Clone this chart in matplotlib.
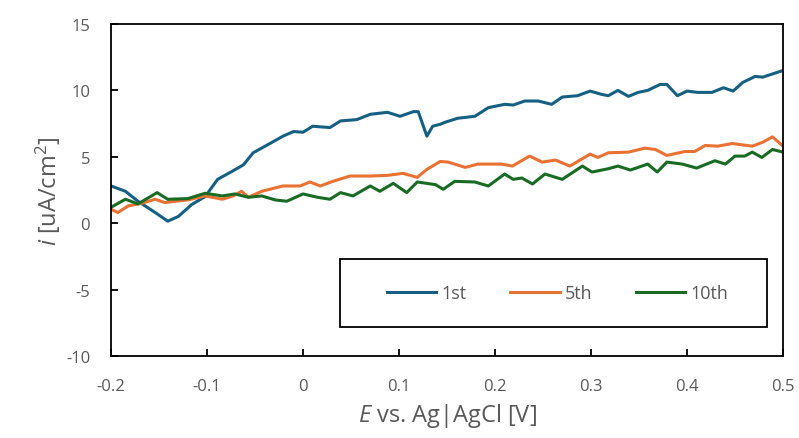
import matplotlib
matplotlib.use("Agg")
import matplotlib.pyplot as plt
from matplotlib.patches import Rectangle

plt.rcParams['font.family'] = ['Open Sans', 'DejaVu Sans']
plt.rcParams['mathtext.fontset'] = 'custom'
plt.rcParams['mathtext.rm'] = 'Open Sans'
plt.rcParams['mathtext.it'] = 'Open Sans:italic'
plt.rcParams['axes.unicode_minus'] = False

# 1st cycle
e_1st = [-0.2, -0.185, -0.172, -0.154, -0.141, -0.130, -0.116, -0.102, -0.089, -0.074,
         -0.062, -0.052, -0.032, -0.021, -0.010, 0.000, 0.010, 0.028, 0.039, 0.056,
         0.070, 0.088, 0.101, 0.115, 0.120, 0.129, 0.135, 0.143, 0.148, 0.161,
         0.179, 0.193, 0.210, 0.219, 0.231, 0.245, 0.259, 0.270, 0.286, 0.299,
         0.311, 0.318, 0.328, 0.339, 0.349, 0.359, 0.372, 0.379, 0.390, 0.400,
         0.411, 0.426, 0.438, 0.448, 0.458, 0.471, 0.479, 0.5]
i_1st = [2.8, 2.4, 1.65, 0.8, 0.15, 0.5, 1.4, 2.0, 3.3, 3.9,
         4.4, 5.3, 6.1, 6.55, 6.9, 6.85, 7.3, 7.2, 7.7, 7.8,
         8.2, 8.35, 8.05, 8.4, 8.4, 6.55, 7.3, 7.45, 7.6, 7.9,
         8.05, 8.7, 8.95, 8.9, 9.2, 9.2, 8.95, 9.5, 9.6, 9.95,
         9.7, 9.6, 10.0, 9.55, 9.85, 10.0, 10.45, 10.45, 9.6, 9.95,
         9.85, 9.85, 10.2, 9.95, 10.6, 11.05, 11.0, 11.5]

# 5th cycle
e_5th = [-0.2, -0.193, -0.182, -0.168, -0.154, -0.144, -0.133, -0.120, -0.102, -0.084,
         -0.073, -0.064, -0.057, -0.043, -0.032, -0.021, -0.003, 0.007, 0.018, 0.031,
         0.049, 0.070, 0.088, 0.104, 0.119, 0.129, 0.143, 0.151, 0.169, 0.182,
         0.207, 0.218, 0.236, 0.249, 0.263, 0.278, 0.299, 0.307, 0.318, 0.339,
         0.356, 0.367, 0.379, 0.398, 0.408, 0.419, 0.432, 0.447, 0.468, 0.479,
         0.489, 0.5]
i_5th = [1.05, 0.8, 1.3, 1.5, 1.8, 1.55, 1.65, 1.75, 2.05, 1.8,
         2.05, 2.4, 1.95, 2.4, 2.6, 2.8, 2.8, 3.1, 2.8, 3.15,
         3.55, 3.55, 3.6, 3.75, 3.45, 4.05, 4.65, 4.6, 4.2, 4.45,
         4.45, 4.3, 5.05, 4.6, 4.75, 4.3, 5.2, 4.95, 5.3, 5.35,
         5.65, 5.55, 5.1, 5.4, 5.4, 5.85, 5.8, 6.0, 5.8, 6.1,
         6.5, 5.8]

# 10th cycle
e_10th = [-0.2, -0.185, -0.172, -0.152, -0.141, -0.120, -0.102, -0.084, -0.071, -0.057,
          -0.043, -0.029, -0.017, 0.000, 0.015, 0.028, 0.039, 0.052, 0.070, 0.080,
          0.094, 0.108, 0.119, 0.138, 0.146, 0.158, 0.179, 0.193, 0.210, 0.219,
          0.228, 0.239, 0.252, 0.270, 0.291, 0.301, 0.318, 0.328, 0.341, 0.359,
          0.369, 0.379, 0.395, 0.410, 0.429, 0.440, 0.450, 0.460, 0.468, 0.478,
          0.489, 0.5]
i_10th = [1.2, 1.8, 1.45, 2.3, 1.8, 1.85, 2.25, 2.05, 2.2, 1.95,
          2.05, 1.75, 1.65, 2.2, 1.95, 1.8, 2.3, 2.05, 2.8, 2.4,
          3.0, 2.3, 3.1, 2.9, 2.55, 3.15, 3.1, 2.8, 3.7, 3.3,
          3.4, 2.95, 3.7, 3.3, 4.3, 3.85, 4.1, 4.3, 4.0, 4.45,
          3.85, 4.6, 4.45, 4.15, 4.7, 4.45, 5.05, 5.05, 5.35, 4.95,
          5.55, 5.35]

x_ticks = [-0.2, -0.1, 0, 0.1, 0.2, 0.3, 0.4, 0.5]
x_labels = ['-0.2', '-0.1', '0', '0.1', '0.2', '0.3', '0.4', '0.5']
y_ticks = [-10, -5, 0, 5, 10, 15]

fig = plt.figure(figsize=(7.99, 4.39), dpi=100)
ax = fig.add_axes([0.139, 0.187, 0.841, 0.756])

ax.plot(e_1st, i_1st, color='#156082', lw=2.2, solid_joinstyle='round', label='1st')
ax.plot(e_5th, i_5th, color='#E97132', lw=2.2, solid_joinstyle='round', label='5th')
ax.plot(e_10th, i_10th, color='#196B24', lw=2.2, solid_joinstyle='round', label='10th')

ax.set_xlim(-0.2, 0.5)
ax.set_ylim(-10, 15)
ax.set_xticks(x_ticks)
ax.set_xticklabels(x_labels)
ax.set_yticks(y_ticks)
ax.tick_params(direction='in', length=5, width=1.3, labelsize=12,
               labelcolor='#595959')
ax.tick_params(axis='x', pad=16)
ax.tick_params(axis='y', pad=15)
for s in ax.spines.values():
    s.set_linewidth(1.3)
    s.set_color('black')

ax.set_xlabel(r'$\mathit{E}$ vs. Ag|AgCl [V]', fontsize=17, color='#595959', labelpad=5)
ax.set_ylabel(r'$\mathit{i}$ [uA/cm$^2$]', fontsize=17, color='#595959', labelpad=2)

# legend box drawn separately, entries centred inside it
ax.add_patch(Rectangle((0.341, 0.087), 0.635, 0.205, transform=ax.transAxes,
                       fill=True, facecolor='white', edgecolor='black', lw=1.3, zorder=4))
leg = ax.legend(loc='center', bbox_to_anchor=(0.6644, 0.19), ncol=3, fontsize=13,
                frameon=False, handlelength=2.75, handletextpad=0.28,
                columnspacing=2.4, borderaxespad=0)
leg.set_zorder(5)
for t in leg.get_texts():
    t.set_color('#595959')

fig.savefig('out.png', dpi=100)
